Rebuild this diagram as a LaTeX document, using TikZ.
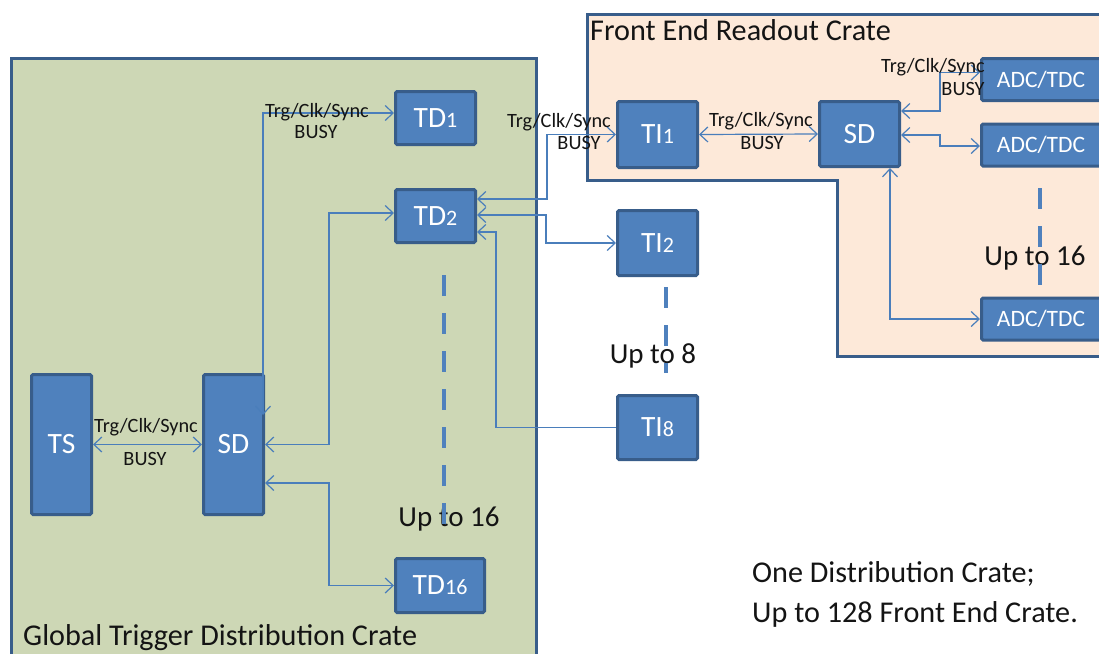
\documentclass[tikz,border=0pt]{standalone}
\usepackage{fontspec}
\setmainfont{Carlito}
\usetikzlibrary{arrows.meta}
\definecolor{boxfill}{HTML}{4F81BD}
\definecolor{boxline}{HTML}{385D8A}
\definecolor{connc}{HTML}{4A7EBB}
\definecolor{greenc}{RGB}{205,215,181}
\definecolor{peachc}{HTML}{FDE9D9}
\definecolor{txtc}{RGB}{20,20,20}
\newcommand{\sm}[1]{{\fontsize{22}{22}\selectfont #1}}
\begin{document}
\begin{tikzpicture}[x=1pt,y=-1pt,
  blk/.style={draw=boxline, fill=boxfill, line width=3pt, rounded corners=1.5pt, inner sep=0pt,
    text=white, font=\fontsize{29.5}{30}\selectfont},
  adc/.style={blk, font=\fontsize{23.5}{24}\selectfont, minimum width=123pt, minimum height=42pt},
  crate/.style={draw=boxline, line width=3pt},
  conn/.style={draw=connc, line width=1.2pt},
  >={Straight Barb[length=8pt,width=15pt]},
  lbl/.style={font=\fontsize{20.3}{21}\selectfont, text=txtc, inner sep=0pt},
  big/.style={font=\fontsize{29}{30}\selectfont, text=txtc, inner sep=0pt},
  bigw/.style={font=\fontsize{30.2}{32}\selectfont, text=txtc, inner sep=0pt},
  dsh/.style={draw=boxfill, line width=4.5pt, dash pattern=on 21pt off 17pt},
]
\useasboundingbox (0,0) rectangle (1099,653);
\clip (0,0) rectangle (1099,653);

% crates
\draw[crate, fill=greenc] (11.5,670) -- (11.5,58) -- (536.5,58) -- (536.5,670);
\draw[crate, fill=peachc] (587,14) -- (1115,14) -- (1115,356) -- (837,356) -- (837,180) -- (587,180) -- cycle;
\node[bigw, anchor=base west] (gtdc) at (23,645) {Global Trigger Distribution Crate};
\node[bigw, anchor=base west] (ferc) at (590,40) {Front End Readout Crate};

% blocks
\node[blk, minimum width=60pt, minimum height=140pt] (TS) at (61.5,444.5) {TS};
\node[blk, minimum width=60pt, minimum height=140pt] (SDL) at (233.5,444.5) {SD};
\node[blk, minimum width=80pt, minimum height=53pt] (TD1) at (435.5,118) {TD\sm{1}};
\node[blk, minimum width=80pt, minimum height=53pt] (TD2) at (435.5,216) {TD\sm{2}};
\node[blk, minimum width=89pt, minimum height=54pt] (TD16) at (440,585.5) {TD\sm{16}};
\node[blk, minimum width=80pt, minimum height=66pt] (TI1) at (657.5,134.5) {TI\sm{1}};
\node[blk, minimum width=80pt, minimum height=65pt] (TI2) at (657.5,243) {TI\sm{2}};
\node[blk, minimum width=80pt, minimum height=64pt] (TI8) at (657.5,427.5) {TI\sm{8}};
\node[blk, minimum width=80pt, minimum height=65pt] (SDR) at (859.5,134) {SD};
\node[adc] (ADC1) at (1043,79.5) {\hspace*{-4pt}ADC/TDC};
\node[adc] (ADC2) at (1043,145) {\hspace*{-4pt}ADC/TDC};
\node[adc] (ADC3) at (1043,319) {\hspace*{-4pt}ADC/TDC};

% connectors
\draw[conn,<->] (TS.east) -- (SDL.west);
\draw[conn,<->] ([yshift=5pt]TD1.west) -| ([xshift=-2pt,yshift=-42pt]SDL.north east);
\draw[conn,<->] (SDL.east) -- ++(64,0) |- ([yshift=3pt]TD2.west);
\draw[conn,<->] ([yshift=-38.5pt]SDL.east) -- ++(64,0) |- (TD16.west);
\draw[conn,<->] ([yshift=17pt]TD2.east) -- ++(70,0) |- (TI1.west);
\draw[conn,<->] ([yshift=1pt]TD2.east) -- ++(69,0) |- (TI2.west);
\draw[conn,<-] ([yshift=-16pt]TD2.east) -- ++(19,0) |- (TI8.west);
\draw[conn,<->] (TI1.east) -- (SDR.west);
\draw[conn,<->] ([yshift=23pt]SDR.east) -- ++(39,0) |- ([yshift=7pt]ADC1.west);
\draw[conn,<->] ([yshift=-1pt]SDR.east) -- ++(39,0) |- ([yshift=-1pt]ADC2.west);
\draw[conn,<->] ([xshift=30.5pt]SDR.south) |- (ADC3.west);

% connector labels
\node[lbl] (l1a) at (146,427) {Trg/Clk/Sync};
\node[lbl] (l1b) at (145,459) {BUSY};
\node[lbl] (l2a) at (317,112) {Trg/Clk/Sync};
\node[lbl] (l2b) at (316,132) {BUSY};
\node[lbl] (l3a) at (559,122) {Trg/Clk/Sync};
\node[lbl] (l3b) at (579,143) {BUSY};
\node[lbl] (l4a) at (761,121) {Trg/Clk/Sync};
\node[lbl] (l4b) at (762,143) {BUSY};
\node[lbl] (l5a) at (933,67) {Trg/Clk/Sync};
\node[lbl] (l5b) at (963,89) {BUSY};

% big labels
\node[big] (u16a) at (449,519) {Up to 16};
\node[big] (u8) at (653,356) {Up to 8};
\node[big] (u16b) at (1035,258) {Up to 16};
\node[bigw, anchor=base west] (n1) at (752,582) {One Distribution Crate;};
\node[bigw, anchor=base west] (n2) at (752,622) {Up to 128 Front End Crate.};

% dashed continuation marks
\draw[dsh] (444,275) -- (444,524);
\draw[dsh] (666,287) -- (666,373);
\draw[dsh] (1040,188) -- (1040,286);
\end{tikzpicture}
\end{document}
